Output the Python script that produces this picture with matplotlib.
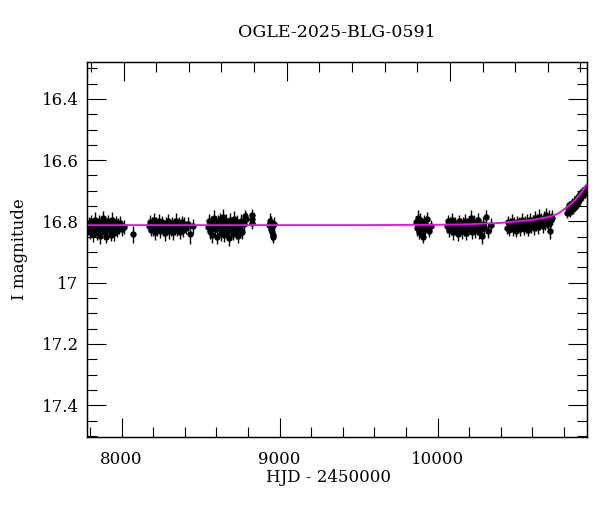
import matplotlib
matplotlib.use("Agg")
import matplotlib.pyplot as plt
from matplotlib.ticker import MultipleLocator

plt.rcParams["font.family"] = ["DejaVu Serif"]

# OGLE seasons: HJD - 2450000, I mag, error
t1 = [7788, 7794, 7799, 7805, 7810, 7816, 7821, 7827, 7832, 7838, 7843, 7849, 7854, 7860,
      7865, 7871, 7876, 7882, 7887, 7893, 7898, 7904, 7909, 7915, 7920, 7926, 7931, 7937,
      7942, 7948, 7953, 7959, 7964, 7970, 7976, 7983, 7991, 8002, 8018, 8072]
m1 = [16.822, 16.806, 16.834, 16.799, 16.817, 16.841, 16.811, 16.827, 16.796, 16.819,
      16.837, 16.808, 16.824, 16.801, 16.846, 16.814, 16.829, 16.790, 16.820, 16.835,
      16.805, 16.851, 16.816, 16.800, 16.828, 16.812, 16.844, 16.795, 16.825, 16.809,
      16.839, 16.815, 16.802, 16.830, 16.813, 16.821, 16.806, 16.826, 16.818, 16.842]
e1 = [0.022, 0.020, 0.024, 0.021, 0.023, 0.025, 0.020, 0.022, 0.026, 0.021,
      0.023, 0.020, 0.024, 0.022, 0.027, 0.021, 0.023, 0.025, 0.020, 0.022,
      0.024, 0.021, 0.026, 0.020, 0.023, 0.022, 0.021, 0.025, 0.022, 0.020,
      0.024, 0.023, 0.021, 0.022, 0.025, 0.021, 0.023, 0.022, 0.024, 0.028]

t2 = [8172, 8178, 8184, 8190, 8196, 8202, 8208, 8214, 8220, 8226, 8232, 8238, 8244, 8250,
      8256, 8262, 8268, 8274, 8280, 8286, 8292, 8298, 8304, 8310, 8316, 8322, 8328, 8334,
      8340, 8346, 8352, 8358, 8364, 8370, 8376, 8382, 8388, 8396, 8405, 8418, 8435, 8450]
m2 = [16.815, 16.801, 16.829, 16.808, 16.822, 16.794, 16.818, 16.835, 16.805, 16.824,
      16.811, 16.797, 16.830, 16.813, 16.803, 16.826, 16.816, 16.839, 16.807, 16.821,
      16.799, 16.832, 16.812, 16.825, 16.804, 16.819, 16.836, 16.809, 16.823, 16.798,
      16.828, 16.814, 16.806, 16.833, 16.817, 16.802, 16.827, 16.812, 16.820, 16.808,
      16.842, 16.816]
e2 = [0.021, 0.023, 0.020, 0.022, 0.024, 0.021, 0.022, 0.025, 0.020, 0.023,
      0.022, 0.021, 0.024, 0.020, 0.022, 0.023, 0.021, 0.025, 0.022, 0.020,
      0.023, 0.024, 0.021, 0.022, 0.020, 0.023, 0.025, 0.021, 0.022, 0.024,
      0.020, 0.023, 0.021, 0.024, 0.022, 0.020, 0.023, 0.025, 0.021, 0.022,
      0.033, 0.024]

t3 = [8548, 8554, 8560, 8566, 8572, 8578, 8584, 8590, 8596, 8602, 8608, 8614, 8620, 8626,
      8632, 8638, 8644, 8650, 8656, 8662, 8668, 8674, 8680, 8686, 8692, 8698, 8704, 8710,
      8716, 8722, 8728, 8734, 8740, 8748, 8756, 8764, 8772, 8781, 8790, 8824, 8826, 8828]
m3 = [16.818, 16.797, 16.832, 16.805, 16.845, 16.811, 16.789, 16.826, 16.814, 16.850,
      16.801, 16.822, 16.793, 16.838, 16.809, 16.827, 16.786, 16.843, 16.816, 16.800,
      16.834, 16.812, 16.855, 16.795, 16.824, 16.807, 16.840, 16.791, 16.820, 16.831,
      16.803, 16.846, 16.813, 16.825, 16.798, 16.836, 16.810, 16.781, 16.792, 16.792,
      16.778, 16.805]
e3 = [0.023, 0.021, 0.025, 0.022, 0.024, 0.021, 0.026, 0.023, 0.022, 0.025,
      0.021, 0.024, 0.022, 0.026, 0.023, 0.021, 0.025, 0.024, 0.022, 0.023,
      0.026, 0.021, 0.024, 0.022, 0.025, 0.023, 0.021, 0.024, 0.022, 0.026,
      0.023, 0.025, 0.021, 0.024, 0.022, 0.023, 0.025, 0.018, 0.022, 0.020,
      0.018, 0.021]

t4 = [8935, 8940, 8944, 8947, 8950, 8953, 8956, 8960, 8964]
m4 = [16.812, 16.798, 16.826, 16.805, 16.835, 16.818, 16.843, 16.852, 16.808]
e4 = [0.022, 0.024, 0.021, 0.023, 0.025, 0.022, 0.024, 0.020, 0.023]

t5 = [9862, 9868, 9873, 9878, 9883, 9888, 9893, 9898, 9903, 9908, 9914, 9920, 9927, 9935,
      9945, 9955]
m5 = [16.803, 16.822, 16.789, 16.815, 16.833, 16.796, 16.809, 16.841, 16.818, 16.852,
      16.800, 16.826, 16.812, 16.793, 16.830, 16.816]
e5 = [0.022, 0.024, 0.025, 0.021, 0.023, 0.022, 0.024, 0.021, 0.023, 0.020,
      0.022, 0.024, 0.021, 0.023, 0.022, 0.020]

t6 = [10062, 10068, 10074, 10080, 10086, 10092, 10098, 10104, 10110, 10116, 10122, 10128,
      10134, 10140, 10146, 10152, 10158, 10164, 10170, 10176, 10182, 10188, 10194, 10200,
      10206, 10212, 10218, 10224, 10230, 10236, 10242, 10248, 10254, 10260, 10266, 10272,
      10279, 10286, 10294, 10305, 10318, 10335]
m6 = [16.815, 16.800, 16.828, 16.809, 16.822, 16.795, 16.836, 16.812, 16.804, 16.825,
      16.817, 16.840, 16.799, 16.821, 16.810, 16.831, 16.806, 16.823, 16.814, 16.797,
      16.838, 16.811, 16.826, 16.803, 16.819, 16.790, 16.833, 16.815, 16.801, 16.829,
      16.808, 16.822, 16.796, 16.835, 16.812, 16.824, 16.848, 16.807, 16.819, 16.787,
      16.830, 16.812]
e6 = [0.022, 0.021, 0.024, 0.022, 0.023, 0.021, 0.025, 0.022, 0.020, 0.023,
      0.022, 0.024, 0.021, 0.023, 0.022, 0.025, 0.021, 0.023, 0.022, 0.020,
      0.024, 0.022, 0.023, 0.021, 0.022, 0.026, 0.023, 0.021, 0.022, 0.024,
      0.021, 0.023, 0.022, 0.024, 0.021, 0.023, 0.027, 0.022, 0.021, 0.023,
      0.024, 0.022]

t7 = [10440, 10447, 10454, 10461, 10468, 10475, 10482, 10489, 10496, 10503, 10510, 10517,
      10524, 10531, 10538, 10545, 10552, 10559, 10566, 10573, 10580, 10587, 10594, 10601,
      10608, 10615, 10622, 10629, 10636, 10643, 10650, 10657, 10664, 10671, 10678, 10685,
      10692, 10699, 10706, 10713, 10720, 10726]
m7 = [16.820, 16.803, 16.829, 16.812, 16.798, 16.824, 16.809, 16.817, 16.830, 16.801,
      16.815, 16.806, 16.825, 16.796, 16.812, 16.821, 16.804, 16.818, 16.799, 16.827,
      16.808, 16.794, 16.816, 16.803, 16.823, 16.790, 16.811, 16.800, 16.819, 16.785,
      16.806, 16.797, 16.814, 16.789, 16.803, 16.779, 16.798, 16.810, 16.786, 16.832,
      16.795, 16.788]
e7 = [0.021, 0.022, 0.020, 0.023, 0.021, 0.022, 0.024, 0.021, 0.022, 0.020,
      0.023, 0.021, 0.022, 0.024, 0.021, 0.023, 0.022, 0.020, 0.023, 0.021,
      0.024, 0.022, 0.021, 0.023, 0.022, 0.024, 0.021, 0.023, 0.022, 0.025,
      0.021, 0.023, 0.024, 0.022, 0.025, 0.023, 0.022, 0.026, 0.023, 0.027,
      0.024, 0.025]

t8 = [10819, 10824, 10829, 10834, 10839, 10844, 10849, 10854, 10859, 10864, 10869, 10874,
      10879, 10884, 10889, 10894, 10899, 10904, 10909, 10914, 10920, 10926, 10932, 10938]
m8 = [16.772, 16.755, 16.766, 16.748, 16.770, 16.752, 16.741, 16.760, 16.744, 16.735,
      16.752, 16.731, 16.742, 16.722, 16.737, 16.718, 16.728, 16.710, 16.721, 16.703,
      16.714, 16.698, 16.706, 16.692]
e8 = [0.016, 0.015, 0.017, 0.016, 0.015, 0.017, 0.016, 0.015, 0.016, 0.017,
      0.015, 0.016, 0.017, 0.015, 0.016, 0.015, 0.017, 0.016, 0.015, 0.016,
      0.017, 0.015, 0.016, 0.015]

seasons = [(t1, m1, e1), (t2, m2, e2), (t3, m3, e3), (t4, m4, e4),
           (t5, m5, e5), (t6, m6, e6), (t7, m7, e7), (t8, m8, e8)]

# microlensing model curve
model_t = [7780, 8500, 9000, 9500, 10000, 10200, 10392, 10500, 10600, 10709,
           10760, 10823, 10870, 10910, 10945]
model_m = [16.812, 16.812, 16.812, 16.812, 16.811, 16.809, 16.805, 16.800, 16.795, 16.785,
           16.775, 16.752, 16.730, 16.705, 16.678]

fig = plt.figure(figsize=(6.0, 5.12), dpi=100)
ax = fig.add_axes([0.145, 0.147, 0.833, 0.731])

for t, m, e in seasons:
    ax.errorbar(t, m, yerr=e, fmt="o", color="black", ms=4.6, mew=0,
                elinewidth=1.0, capsize=2.6, capthick=1.0, zorder=2)

ax.plot(model_t, model_m, color="#ff00ff", lw=1.3, zorder=3)

ax.set_xlim(7781, 10944)
ax.set_ylim(17.503, 16.281)

ax.xaxis.set_major_locator(MultipleLocator(1000))
ax.xaxis.set_minor_locator(MultipleLocator(200))
ax.yaxis.set_major_locator(MultipleLocator(0.2))
ax.yaxis.set_minor_locator(MultipleLocator(0.05))
ax.yaxis.set_major_formatter(lambda v, p: f"{v:g}")

ax.tick_params(which="both", direction="in", right=True, top=False, width=0.8,
               labelsize=12)
ax.tick_params(which="major", length=13.5)
ax.tick_params(which="minor", length=7)
ax.tick_params(axis="x", pad=10)
ax.tick_params(axis="y", pad=6)

# top axis in the original uses a slightly different scale
top = ax.twiny()
top.set_xlim(7776, 10839)
top.xaxis.set_major_locator(MultipleLocator(1000))
top.xaxis.set_minor_locator(MultipleLocator(200))
top.tick_params(which="both", direction="in", labeltop=False, width=0.8)
top.tick_params(which="major", length=13.5)
top.tick_params(which="minor", length=7)

for a in (ax, top):
    for s in a.spines.values():
        s.set_linewidth(0.9)

ax.set_xlabel("HJD - 2450000", fontsize=12, labelpad=6)
ax.xaxis.set_label_coords(0.484, -0.085)
ax.set_ylabel("I magnitude", fontsize=12, labelpad=10)
ax.set_title("OGLE-2025-BLG-0591", fontsize=12.5, pad=18)

fig.savefig("out.png", dpi=100)
